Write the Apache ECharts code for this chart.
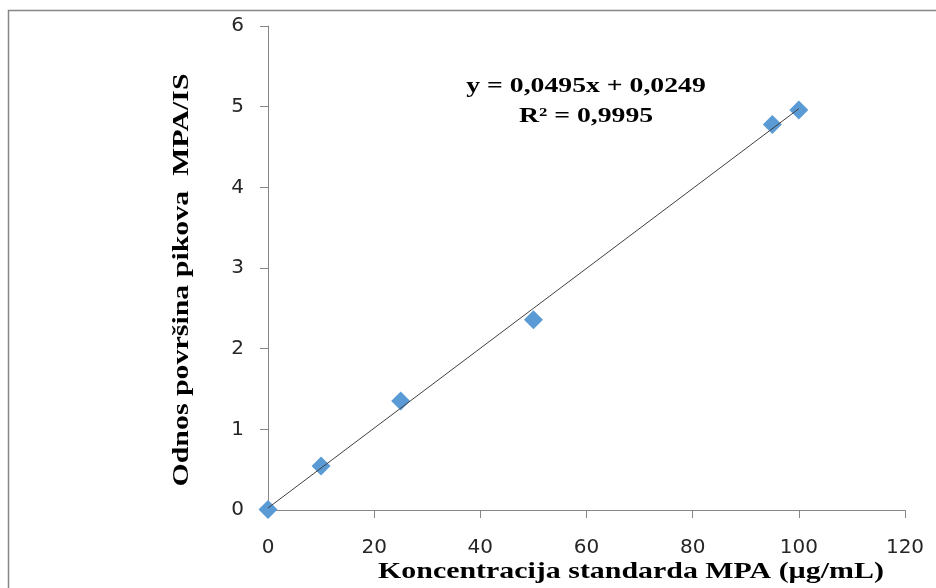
<!DOCTYPE html>
<html>
<head>
<meta charset="utf-8">
<script src="https://cdn.jsdelivr.net/npm/echarts@6/dist/echarts.min.js"></script>
<style>
  html, body { margin: 0; padding: 0; background: #fff; }
  #chart { width: 936px; height: 588px; }
</style>
</head>
<body>
<div id="chart"></div>
<script>
// Calibration data: MPA standard concentration vs. peak area ratio MPA/IS
const concentrations = [0, 10, 25, 50, 95, 100];
const areaRatios = [0.005, 0.545, 1.35, 2.36, 4.78, 4.96];

// Linear fit y = slope * x + intercept
const slope = 0.0495;
const intercept = 0.0249;
const rSquared = '0,9995';
const fitRange = [0, 100];

const xTicks = { min: 0, max: 120, interval: 20 };
const yTicks = { min: 0, max: 6, interval: 1 };

const xTitle = 'Koncentracija standarda MPA (µg/mL)';
const yTitle = 'Odnos površina pikova  MPA/IS';
const equationText = 'y = ' + String(slope).replace('.', ',') + 'x + ' + String(intercept).replace('.', ',');
const r2Text = 'R² = ' + rSquared;

const points = concentrations.map((c, i) => [c, areaRatios[i]]);
const fitLine = fitRange.map(x => [x, slope * x + intercept]);

const axisGray = '#868686';
const labelFont = { fontFamily: '"DejaVu Sans", sans-serif', fontSize: 20, color: '#262626' };
const serifBold = 'bold 23px "Liberation Serif", "Times New Roman", serif';
const widen = 1.3; // wide bold serif headings

const chart = echarts.init(document.getElementById('chart'), null, { renderer: 'canvas' });
chart.setOption({
  animation: false,
  backgroundColor: '#ffffff',
  grid: { left: 268, right: 31, top: 26, bottom: 78, containLabel: false },
  xAxis: {
    type: 'value',
    min: xTicks.min, max: xTicks.max, interval: xTicks.interval,
    splitLine: { show: false },
    axisLine: { show: true, onZero: false, lineStyle: { color: axisGray, width: 1 } },
    axisTick: { show: true, inside: false, length: 8, lineStyle: { color: axisGray } },
    axisLabel: Object.assign({ margin: 28 }, labelFont)
  },
  yAxis: {
    type: 'value',
    min: yTicks.min, max: yTicks.max, interval: yTicks.interval,
    splitLine: { show: false },
    axisLine: { show: true, onZero: false, lineStyle: { color: axisGray, width: 1 } },
    axisTick: { show: true, inside: false, length: 8, lineStyle: { color: axisGray } },
    axisLabel: Object.assign({ margin: 24 }, labelFont)
  },
  series: [
    {
      type: 'line',
      data: fitLine,
      symbol: 'none',
      lineStyle: { color: '#404040', width: 1 },
      z: 3
    },
    {
      type: 'scatter',
      data: points,
      symbol: 'diamond',
      symbolSize: [19, 19],
      itemStyle: { color: '#5B9BD5', opacity: 1 },
      z: 2
    }
  ],
  graphic: [
    {
      type: 'rect',
      shape: { x: 8.5, y: 10.5, width: 1000, height: 700 },
      style: { fill: 'none', stroke: axisGray, lineWidth: 1.5 },
      silent: true,
      z: -1
    },
    {
      type: 'text',
      x: 631, y: 572,
      scaleX: widen,
      style: { text: xTitle, font: serifBold, fill: '#000', align: 'center', verticalAlign: 'middle' }
    },
    {
      type: 'text',
      x: 182, y: 280,
      rotation: Math.PI / 2,
      scaleX: widen,
      style: { text: yTitle, font: serifBold, fill: '#000', align: 'center', verticalAlign: 'middle' }
    },
    {
      type: 'text',
      x: 586, y: 86,
      scaleX: 1.26,
      style: { text: equationText, font: 'bold 22px "Liberation Serif", "Times New Roman", serif', fill: '#000', align: 'center', verticalAlign: 'middle' }
    },
    {
      type: 'text',
      x: 586, y: 116,
      scaleX: 1.26,
      style: { text: r2Text, font: 'bold 22px "Liberation Serif", "Times New Roman", serif', fill: '#000', align: 'center', verticalAlign: 'middle' }
    }
  ]
});
</script>
</body>
</html>
